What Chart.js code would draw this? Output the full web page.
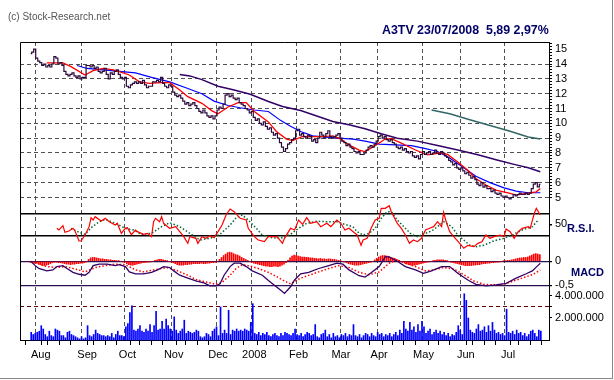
<!DOCTYPE html>
<html><head><meta charset="utf-8">
<script src="https://cdn.jsdelivr.net/npm/chart.js@4.4.1/dist/chart.umd.min.js"></script>
<style>
html,body{margin:0;padding:0;background:#fff;}
#wrap{position:relative;width:614px;height:380px;overflow:hidden;font-family:"Liberation Sans",Arial,sans-serif;}
#c{position:absolute;left:0;top:0;}
.t{position:absolute;white-space:nowrap;line-height:13px;}
#fr{position:absolute;left:612px;top:0;width:1px;height:379px;background:#888;}
#fb{position:absolute;left:0;top:378px;width:613px;height:1px;background:#888;}
</style></head><body>
<div id="wrap">
<canvas id="c" width="614" height="380"></canvas>
<div class="t" style="left:8px;top:10px;font-size:10px;color:#555">(c) Stock-Research.net</div>
<div class="t" style="left:382px;top:24px;font-size:12.4px;font-weight:bold;color:#000066">A3TV 23/07/2008&nbsp;&nbsp;5,89 2,97%</div>
<div class="t" style="left:567px;top:222px;font-size:11px;font-weight:bold;color:#000066">R.S.I.</div>
<div class="t" style="left:571px;top:266px;font-size:11px;font-weight:bold;color:#000066">MACD</div>
<div id="fr"></div><div id="fb"></div>
</div>
<script>
// ---- categories / x axis ----
const monthIdx = [5, 28, 48, 71, 93, 111, 133, 154, 173, 195, 216, 237];
const monthLabels = ['Aug','Sep','Oct','Nov','Dec','2008','Feb','Mar','Apr','May','Jun','Jul'];

// ---- daily closes (trading days, 24/07/2007 .. 23/07/2008) ----
const closes = [
14.7,14.8,15.0,14.4,14.2,14.1,13.9,14.0,13.8,13.9,
13.8,14.0,14.5,14.4,14.0,14.1,13.9,13.5,13.3,13.2,
13.3,13.4,13.2,13.1,13.2,13.0,13.1,13.1,13.9,13.9,
13.8,13.9,13.7,13.8,13.5,13.4,13.5,13.7,13.3,13.0,
13.4,13.3,13.5,13.6,13.3,13.1,13.0,13.1,12.5,12.4,
12.6,12.7,12.8,12.7,12.8,12.7,12.9,12.6,12.4,12.5,
12.5,12.8,12.8,12.9,12.8,13.1,12.7,12.5,12.4,12.6,
12.5,12.1,11.9,11.8,11.9,11.7,11.5,11.3,11.4,11.2,
11.3,11.4,11.2,11.0,10.8,10.7,10.9,10.7,10.5,10.4,
10.5,10.3,10.5,10.9,11.1,11.0,11.3,11.9,12.0,11.8,
11.9,11.7,11.6,11.7,11.4,11.3,11.2,11.0,10.9,10.7,
10.8,10.4,10.2,10.3,10.0,9.9,10.1,9.8,9.6,9.7,
9.4,9.2,9.3,9.0,8.7,8.4,8.1,8.3,8.6,8.7,
8.9,9.0,9.5,9.6,9.2,9.3,9.1,9.0,9.2,9.1,
8.8,8.9,8.7,9.0,9.4,9.2,9.0,9.3,9.5,9.1,
9.0,9.1,9.2,9.3,9.0,8.8,8.7,8.5,8.6,8.4,
8.3,8.1,8.0,8.1,7.9,7.9,8.0,8.2,8.4,8.5,
8.4,8.6,8.8,9.1,9.2,9.0,9.1,8.9,8.8,8.9,
8.7,8.6,8.4,8.3,8.4,8.2,8.3,8.1,8.0,8.1,
7.8,7.7,7.8,7.6,7.9,8.1,7.9,8.0,8.1,7.9,
8.0,8.2,8.0,7.9,8.1,8.0,7.8,7.7,7.5,7.4,
7.2,7.3,7.0,6.9,7.0,6.8,6.6,6.7,6.5,6.3,
6.4,6.2,5.9,5.8,6.0,5.7,5.8,5.6,5.6,5.4,
5.5,5.3,5.2,5.3,5.1,5.0,5.1,5.0,4.9,5.0,
5.2,5.1,5.2,5.3,5.2,5.2,5.3,5.2,5.3,5.6,
5.9,6.0,5.72,5.89];

// ---- moving averages: [day, value] ----
const maRed = [[8,14.08],[16,14.08],[20,13.82],[27,13.26],[31,13.55],[36,13.7],[41,13.6],[44,13.48],[49,13.26],[54,12.8],[59,12.7],[65,12.74],[69,12.74],[74,12.25],[78,11.8],[85,11.35],[90,10.84],[93,10.64],[98,11.1],[103,11.4],[107,11.4],[111,10.8],[118,10.1],[122,9.45],[127,8.94],[130,8.83],[135,9.12],[140,9.1],[145,9.1],[150,9.16],[153,9.0],[158,8.55],[163,8.2],[166,8.1],[171,8.5],[176,8.94],[179,8.96],[184,8.67],[191,8.2],[197,7.88],[203,8.0],[207,7.9],[212,7.4],[217,6.84],[221,6.28],[226,5.84],[231,5.5],[238,5.27],[241,5.16],[246,5.27],[251,5.38],[253,5.6]];
const maBlue = [[23,13.9],[28,13.7],[36,13.6],[44,13.5],[52,13.4],[60,13.1],[69,12.8],[77,12.4],[85,12.0],[91,11.5],[98,11.2],[104,11.05],[111,10.9],[118,10.8],[124,10.2],[129,9.8],[134,9.45],[140,9.16],[147,9.07],[153,9.0],[160,8.94],[166,8.8],[173,8.6],[181,8.55],[189,8.5],[196,8.3],[202,8.1],[208,7.66],[215,7.0],[221,6.43],[228,6.0],[235,5.65],[241,5.43],[247,5.32],[253,5.32]];
const maPurple = [[74,13.3],[79,13.2],[85,12.95],[93,12.5],[101,12.25],[109,11.96],[118,11.47],[125,11.13],[134,10.86],[142,10.5],[150,10.12],[158,9.9],[166,9.63],[174,9.3],[182,9.0],[192,8.8],[202,8.5],[212,8.2],[222,7.88],[231,7.55],[241,7.2],[247,7.0],[253,6.73]];
const maTeal = [[199,10.9],[208,10.64],[218,10.24],[228,9.86],[238,9.46],[247,9.08],[253,8.94]];

// ---- RSI ----
const rsiLine = [[13,42.7],[14,39.8],[16,47.5],[17,35.4],[19,37.8],[21,42.7],[22,37.8],[24,19.6],[25,19.6],[27,30.5],[29,45.7],[30,62],[31,57.8],[32,63.9],[35,56],[37,60.9],[39,54.7],[42,48.7],[43,51.8],[45,33.6],[47,42.7],[48,43.8],[50,31.2],[52,39.6],[53,36.6],[56,31.8],[58,33.6],[60,27.5],[61,54.7],[62,60.9],[64,54.7],[65,63.9],[66,51.8],[68,45.7],[69,42.7],[72,45.7],[74,36.6],[76,27.5],[78,15.4],[79,27.5],[82,24.5],[83,15.4],[85,27.5],[87,24.5],[89,29.3],[91,25.6],[93,36.6],[95,48.7],[97,66.9],[99,77.8],[101,72.9],[104,60.9],[107,57.8],[108,42.7],[111,27.5],[113,21.4],[116,18.4],[118,27.5],[122,27.5],[123,24.5],[125,15.4],[126,24.5],[129,42.7],[131,39.6],[133,57.8],[135,50],[137,62],[139,51.8],[142,54.7],[144,45.7],[147,51.8],[149,45.7],[152,57.8],[154,51.8],[156,39.6],[158,42.7],[161,33.6],[162,31.2],[164,11.8],[165,21.4],[167,24.5],[169,42.7],[171,57.8],[173,60.9],[174,79],[176,79],[178,83.8],[179,72.9],[182,51.8],[184,42.7],[186,30.5],[188,15.4],[190,21.4],[192,18.4],[194,24.5],[196,39.6],[198,42.7],[200,45.7],[202,54.7],[204,45.7],[205,71.8],[206,57.8],[208,36.6],[210,27.5],[213,15.4],[215,6.4],[217,11.8],[220,9.3],[222,15.4],[224,18.4],[226,30.5],[228,24.5],[230,27.5],[233,30.5],[235,27.5],[236,41.5],[238,36.6],[240,24.5],[242,36.6],[244,42.7],[247,45.7],[248,42.7],[250,70],[251,79],[253,66.9]];
const rsiSignal = [[20,42.7],[24,35.4],[27,31.8],[30,43.8],[34,54.7],[37,59],[42,51.8],[47,42.7],[51,39.6],[55,31.8],[60,33.6],[65,45.7],[69,53],[74,45.7],[79,33.6],[84,21.4],[89,24.5],[94,31.8],[99,48.7],[102,62],[105,66.9],[108,57.8],[112,42.7],[115,30.5],[120,25.6],[124,24.5],[129,31.8],[133,42.7],[137,51.8],[142,55.5],[147,54.7],[152,54.7],[157,48.7],[160,45.7],[162,36.6],[165,30.5],[168,33.6],[171,42.7],[174,60.9],[177,72.9],[179,72.9],[182,57.8],[186,42.7],[189,31.8],[192,27.5],[196,33.6],[199,37.8],[202,45.7],[205,54.7],[209,45.7],[212,30.5],[215,21.4],[218,12],[221,9.3],[225,12],[230,20],[235,24.5],[239,30.5],[244,39.6],[249,45.7],[252,57.8]];

// ---- MACD ----
const macdLine = [[0,0],[2,-0.08],[4,-0.15],[8,-0.2],[11,-0.18],[13,-0.11],[16,-0.09],[18,-0.15],[21,-0.23],[24,-0.27],[27,-0.29],[29,-0.23],[31,-0.09],[34,-0.06],[38,-0.06],[42,-0.09],[44,-0.07],[47,-0.11],[49,-0.22],[52,-0.26],[56,-0.26],[60,-0.23],[63,-0.18],[66,-0.11],[69,-0.13],[71,-0.2],[74,-0.29],[78,-0.35],[82,-0.41],[86,-0.45],[89,-0.51],[92,-0.51],[94,-0.47],[96,-0.29],[99,-0.11],[101,-0.04],[104,-0.04],[107,-0.11],[110,-0.2],[115,-0.29],[118,-0.4],[121,-0.5],[124,-0.6],[126,-0.67],[129,-0.53],[131,-0.39],[134,-0.26],[138,-0.23],[143,-0.15],[148,-0.09],[152,-0.04],[155,-0.06],[158,-0.18],[163,-0.3],[166,-0.33],[169,-0.24],[173,-0.11],[176,0.09],[178,0.09],[182,0],[186,-0.11],[191,-0.18],[195,-0.25],[199,-0.2],[204,-0.11],[208,-0.11],[212,-0.25],[217,-0.39],[221,-0.48],[226,-0.51],[231,-0.49],[236,-0.46],[241,-0.35],[246,-0.26],[249,-0.2],[252,-0.08],[253,-0.04]];
const macdSignal = [[2,-0.03],[8,-0.11],[13,-0.13],[17,-0.11],[22,-0.16],[27,-0.22],[32,-0.13],[37,-0.09],[42,-0.06],[47,-0.07],[52,-0.18],[56,-0.22],[61,-0.18],[68,-0.13],[73,-0.2],[78,-0.29],[82,-0.38],[87,-0.43],[92,-0.48],[95,-0.44],[99,-0.29],[102,-0.15],[105,-0.07],[108,-0.09],[113,-0.15],[118,-0.23],[123,-0.34],[126,-0.41],[129,-0.47],[134,-0.35],[139,-0.28],[143,-0.22],[148,-0.15],[153,-0.09],[158,-0.13],[163,-0.23],[168,-0.28],[173,-0.22],[178,-0.04],[182,0.03],[186,-0.04],[191,-0.11],[196,-0.2],[200,-0.18],[205,-0.13],[210,-0.16],[215,-0.28],[220,-0.41],[225,-0.48],[230,-0.49],[235,-0.48],[239,-0.42],[244,-0.35],[249,-0.28],[253,-0.18]];
const macdHist = [
-0.02,-0.03,-0.04,-0.04,-0.05,
-0.07,-0.09,-0.09,-0.08,-0.07,-0.05,
-0.03,-0.02,-0.02,-0.03,-0.03,-0.04,
-0.05,-0.06,-0.06,-0.07,-0.06,-0.06,-0.05,-0.05,
-0.04,-0.04,-0.03,-0.01,
0.04,0.07,0.08,0.08,0.07,
0.06,0.05,0.05,0.04,0.04,0.03,0.03,0.02,0.02,0.01,
0.01,0.0,-0.01,-0.02,
-0.05,-0.07,-0.08,-0.08,-0.07,-0.06,-0.05,-0.04,
-0.03,-0.03,-0.02,-0.02,-0.01,0.0,0.02,
0.03,0.04,0.04,0.03,0.02,0.01,
0.0,-0.01,-0.03,
-0.05,-0.07,-0.08,-0.08,-0.08,-0.07,-0.07,-0.06,
-0.06,-0.05,-0.05,-0.05,-0.05,-0.04,-0.05,-0.05,-0.04,-0.04,-0.03,-0.03,-0.02,0.0,
0.04,0.08,0.12,0.15,0.18,0.19,0.18,0.16,0.14,0.13,0.11,0.08,0.06,0.04,
0.02,0.0,-0.02,-0.04,-0.05,-0.06,-0.07,-0.08,
-0.09,-0.1,-0.1,-0.11,-0.11,-0.1,-0.1,-0.11,-0.1,-0.08,-0.06,-0.03,
0.02,0.07,0.11,0.13,0.12,0.11,
0.10,0.09,0.09,0.08,0.08,0.07,0.07,
0.06,0.06,0.05,0.06,0.05,0.05,0.04,0.05,0.05,0.04,0.04,0.03,0.02,
0.01,0.0,-0.01,-0.03,
-0.05,-0.06,-0.07,-0.08,-0.08,-0.08,-0.07,-0.06,-0.05,
-0.04,-0.03,-0.02,0.0,0.03,
0.06,0.09,0.11,0.12,0.12,0.11,0.1,0.08,
0.07,0.06,0.04,0.02,0.0,-0.02,-0.04,
-0.06,-0.07,-0.08,-0.08,-0.08,-0.07,-0.06,-0.05,-0.04,
-0.03,-0.02,-0.01,0.0,0.01,
0.02,0.03,0.03,0.03,0.03,0.02,0.01,0.0,
-0.02,-0.03,-0.04,-0.05,-0.06,-0.07,-0.08,
-0.09,-0.09,-0.09,-0.09,-0.08,-0.08,-0.07,-0.07,-0.06,-0.05,
-0.05,-0.04,-0.04,-0.03,-0.03,-0.02,-0.02,-0.01,0.0,
0.01,0.01,0.02,0.02,0.03,0.04,
0.05,0.06,0.07,0.07,0.08,0.08,0.09,
0.11,0.13,0.15,0.16,0.15,0.14];

// ---- volume (millions of shares) ----
const volume = [
0.7,0.5,0.6,0.7,0.8,1.3,1.0,0.5,0.3,0.8,
0.4,0.3,1.0,0.9,0.8,0.4,0.4,0.2,0.7,0.8,
0.5,0.4,0.3,0.2,0.1,0.3,0.1,0.2,1.3,0.4,
0.3,0.5,0.9,0.6,0.5,0.4,0.4,0.3,0.4,0.3,
0.6,0.2,0.5,0.8,0.4,0.4,0.3,1.2,1.5,2.5,
3.1,0.9,0.8,1.0,1.3,0.8,0.7,1.0,0.8,1.4,
0.7,1.3,2.6,0.9,1.0,1.7,1.0,1.9,1.3,1.0,
0.8,2.1,0.9,0.6,0.8,1.0,1.8,0.6,0.8,0.7,
0.6,0.7,0.9,0.8,0.3,0.2,0.3,0.6,0.5,0.3,
0.8,1.0,1.2,0.4,3.0,0.6,0.9,0.6,2.7,0.5,
0.9,0.8,1.0,0.8,0.9,0.8,1.0,0.9,0.8,1.6,
3.3,0.6,0.5,0.7,0.4,0.6,0.5,0.7,0.4,0.3,
0.5,0.6,0.4,0.3,0.6,0.4,0.7,0.6,0.5,0.4,
0.6,1.0,0.5,0.4,0.6,0.3,0.5,0.7,0.6,0.4,
0.5,1.4,0.3,0.2,0.5,0.6,0.9,0.3,0.5,0.2,
0.6,0.3,0.4,0.2,0.5,0.4,0.6,0.3,0.5,0.4,
1.4,0.4,0.3,0.5,0.2,0.4,0.6,0.5,0.3,0.6,
0.4,0.3,0.7,0.5,0.6,0.3,0.5,0.4,0.6,0.3,
0.5,0.7,0.4,0.9,0.6,1.7,1.0,0.8,1.6,0.9,
1.2,0.7,1.4,0.8,1.7,1.2,0.6,0.8,1.0,0.5,
0.7,0.9,0.6,0.8,0.5,0.7,0.4,0.6,0.3,0.5,
0.4,0.7,1.3,0.9,0.5,4.2,3.6,2.0,0.9,0.7,
0.6,1.0,1.4,0.8,0.9,1.2,0.7,1.3,0.8,1.6,
0.9,0.6,0.7,0.5,0.6,0.4,2.8,0.7,0.6,0.8,
0.5,0.9,0.6,0.7,0.4,0.6,0.3,0.5,0.8,0.9,
0.6,0.3,0.9,0.8];

// ---- right-axis tick labels ----
const rsiTicks = [30, 50, 70];
const rsiTickLabels = ['', '50', ''];
const macdTicks = [-0.5, 0];
const macdTickLabels = ['-0,5', '0'];
const volTicks = [2, 3, 4];
const volTickLabels = ['2.000.000', '', '4.000.000'];

// ---- helpers ----
const daily = arr => arr.map((v, i) => ({x: i, y: v}));
const pairs = arr => arr.map(p => ({x: p[0], y: p[1]}));
const monthSet = new Set(monthIdx);
const minorTicks = [];
for (let k = 0; k * 5.7 <= 254; k++) minorTicks.push(+(k * 5.7).toFixed(2));
const xTicks = [...minorTicks, ...monthIdx].sort((a, b) => a - b);
const priceTicks = [];
for (let k = 25; k <= 77; k++) priceTicks.push(k / 5);
const isInt = v => Math.abs(v - Math.round(v)) < 1e-6;

const FONT = {family: '"Liberation Sans", Arial, sans-serif', size: 11};
Chart.defaults.font = FONT;
Chart.defaults.color = '#000';

const GRID = '#505050';
const fixW = s => { s.width = 65; };

const framePlugin = {
  id: 'frame',
  beforeDatasetsDraw(chart) {
    const {ctx, chartArea: a} = chart;
    ctx.save();
    ctx.strokeStyle = '#000';
    ctx.lineWidth = 1;
    ctx.beginPath();
    ctx.moveTo(a.left + 0.5, a.bottom);
    ctx.lineTo(a.left + 0.5, a.top + 0.5);
    ctx.lineTo(a.right, a.top + 0.5);
    ctx.stroke();
    ctx.restore();
  }
};

const line = (data, axis, color, width, extra) => Object.assign({
  type: 'line', data, yAxisID: axis, borderColor: color, borderWidth: width,
  pointRadius: 0, fill: false, tension: 0, clip: false
}, extra || {});

new Chart(document.getElementById('c'), {
  data: {
    datasets: [
      line(daily(closes), 'yP', '#2a0a3a', 1.2, {stepped: 'middle'}),
      line(pairs(maRed), 'yP', '#ff0000', 1.3),
      line(pairs(maBlue), 'yP', '#0000ff', 1.2),
      line(pairs(maPurple), 'yP', '#330066', 1.5),
      line(pairs(maTeal), 'yP', '#336666', 1.5),
      line(pairs(rsiLine), 'yR', '#ff0000', 1.2),
      line(pairs(rsiSignal), 'yR', '#006633', 1.5, {borderDash: [1.5, 2]}),
      line(pairs(macdLine), 'yM', '#330066', 1.3),
      line(pairs(macdSignal), 'yM', '#ff0000', 1.5, {borderDash: [1.5, 2]}),
      {type: 'bar', data: daily(macdHist), yAxisID: 'yM', backgroundColor: '#ff0000', barThickness: 1, clip: false},
      {type: 'bar', data: daily(volume), yAxisID: 'yV', backgroundColor: '#0000ff', barThickness: 1, clip: false}
    ]
  },
  options: {
    responsive: false,
    animation: false,
    devicePixelRatio: 1,
    layout: {padding: {top: 42, left: 20, right: 0, bottom: 0}},
    plugins: {legend: {display: false}, tooltip: {enabled: false}},
    scales: {
      x: {
        type: 'linear', min: -3, max: 255,
        afterBuildTicks: s => { s.ticks = xTicks.map(v => ({value: v})); },
        afterFit: s => { s.height = 40; },
        ticks: {
          autoSkip: false, maxRotation: 0, padding: 3,
          callback: v => { const k = monthIdx.indexOf(v); return k >= 0 ? monthLabels[k] : ''; }
        },
        grid: {
          color: c => (c.tick && monthSet.has(c.tick.value)) ? GRID : 'rgba(0,0,0,0)',
          tickColor: c => (c.tick && monthSet.has(c.tick.value)) ? 'rgba(0,0,0,0)' : '#000',
          tickLength: 5, lineWidth: 1
        },
        border: {color: '#000', width: 1, dash: [4, 3]}
      },
      yP: {
        type: 'linear', position: 'right', stack: 'p', stackWeight: 158,
        min: 4.83, max: 15.485,
        afterBuildTicks: s => { s.ticks = priceTicks.map(v => ({value: v})); },
        afterFit: fixW,
        ticks: {autoSkip: false, padding: 3, callback: v => isInt(v) ? String(Math.round(v)) : ''},
        grid: {
          color: c => (c.tick && isInt(c.tick.value) && c.tick.value <= 14) ? GRID : 'rgba(0,0,0,0)',
          tickColor: '#000', tickLength: 3, lineWidth: 1
        },
        border: {color: '#000', width: 1, dash: [4, 3]}
      },
      yR: {
        type: 'linear', position: 'right', stack: 'p', stackWeight: 50,
        min: 3.27, max: 94.2,
        afterBuildTicks: s => { s.ticks = rsiTicks.map(v => ({value: v})); },
        afterFit: fixW,
        ticks: {autoSkip: false, padding: 3, callback: v => rsiTickLabels[rsiTicks.indexOf(v)]},
        grid: {
          color: c => (c.tick && c.tick.value !== 50) ? '#000' : 'rgba(0,0,0,0)',
          lineWidth: 1.5,
          tickColor: c => (c.tick && c.tick.value === 50) ? '#000' : 'rgba(0,0,0,0)', tickLength: 3
        },
        border: {color: '#000', width: 1}
      },
      yM: {
        type: 'linear', position: 'right', stack: 'p', stackWeight: 44,
        min: -0.681, max: 0.235,
        afterBuildTicks: s => { s.ticks = macdTicks.map(v => ({value: v})); },
        afterFit: fixW,
        ticks: {autoSkip: false, padding: 3, callback: v => macdTickLabels[macdTicks.indexOf(v)]},
        grid: {color: '#2a1050', lineWidth: 1.3, tickColor: '#000', tickLength: 3},
        border: {color: '#000', width: 1}
      },
      yV: {
        type: 'linear', position: 'right', stack: 'p', stackWeight: 46,
        min: 0, max: 4.18,
        afterBuildTicks: s => { s.ticks = volTicks.map(v => ({value: v})); },
        afterFit: fixW,
        ticks: {autoSkip: false, padding: 3, callback: v => volTickLabels[volTicks.indexOf(v)]},
        grid: {
          color: c => (c.tick && c.tick.value === 3) ? '#660000' : 'rgba(0,0,0,0)',
          lineWidth: 1, tickColor: '#000', tickLength: 3
        },
        border: {color: '#000', width: 1, dash: [4, 3]}
      }
    }
  },
  plugins: [framePlugin]
});
</script>
</body></html>
